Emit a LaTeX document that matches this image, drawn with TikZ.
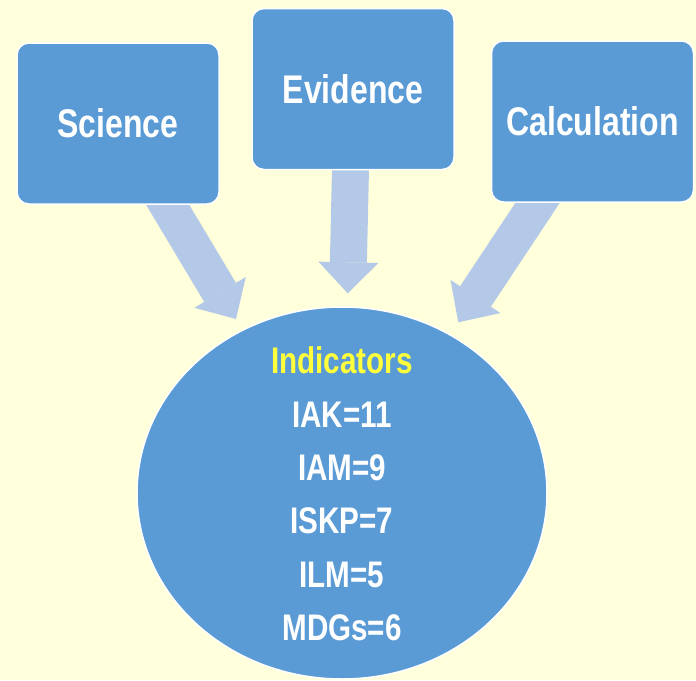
\documentclass[tikz,border=0pt]{standalone}
\usepackage{fontspec}
\setmainfont{Liberation Sans}[FakeStretch=0.8]
\usetikzlibrary{shapes.geometric,arrows.meta}
\pgfdeclarelayer{bottom}
\pgfdeclarelayer{background}
\pgfsetlayers{bottom,background,main}
\definecolor{bgyellow}{HTML}{FFFFDC}
\definecolor{boxblue}{HTML}{5B9BD5}
\definecolor{arrowblue}{HTML}{B4C9E7}
\definecolor{indyellow}{HTML}{FFFF3C}
\tikzset{
  topbox/.style={draw=white, line width=1.5pt, fill=boxblue, rounded corners=12pt,
    minimum width=202pt, minimum height=161pt, inner sep=0pt, text=white,
    font=\bfseries\fontsize{40}{48}\selectfont},
  bigarrow/.style={draw=arrowblue, line width=37pt,
    -{Triangle[width=60pt,length=31pt,line width=0pt,fill=arrowblue]}},
}
\begin{document}
\begin{tikzpicture}[x=1pt,y=-1pt]
\begin{pgfonlayer}{bottom}
\fill[bgyellow] (0,0) rectangle (696,680);
\end{pgfonlayer}
\useasboundingbox (0,0) rectangle (696,680);
\node[topbox] (sci) at (118,123.5) {Science};
\node[topbox] (evi) at (353,89) {Evidence};
\node[topbox] (cal) at (592.5,121.5) {Calculation};
\node[ellipse, draw=white, line width=1.5pt, fill=boxblue, minimum width=410pt,
  minimum height=372pt, inner sep=0pt] (ind) at (342,493) {};
\node[align=center, text=white, inner sep=0pt,
  font=\bfseries\fontsize{37}{53.4}\selectfont] (indtext) at (342,494)
  {\textcolor{indyellow}{Indicators}\\IAK=11\\IAM=9\\ISKP=7\\ILM=5\\MDGs=6};
\coordinate (s1) at (158.7,189.8);
\coordinate (t1) at (236,319);
\coordinate (s2) at (350.7,160);
\coordinate (t2) at (347.7,293.3);
\coordinate (s3) at (546.6,189.3);
\coordinate (t3) at (458.3,322.3);
\begin{pgfonlayer}{background}
\draw[bigarrow] (s1) -- (t1);
\draw[bigarrow] (s2) -- (t2);
\draw[bigarrow] (s3) -- (t3);
\end{pgfonlayer}
\end{tikzpicture}
\end{document}
